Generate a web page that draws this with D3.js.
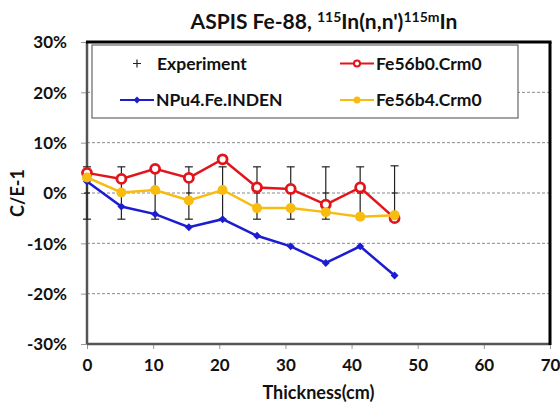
<!DOCTYPE html>
<html>
<head>
<meta charset="utf-8">
<script src="https://cdn.jsdelivr.net/npm/d3@7"></script>
<style>
  body { margin: 0; background: #fff; }
  svg text { font-family: Lato, "Open Sans", sans-serif; font-weight: bold; fill: #111; }
</style>
</head>
<body>
<div id="chart"></div>
<script>
// thickness positions (cm)
const thickness = [0, 5.2, 10.3, 15.4, 20.5, 25.7, 30.8, 36.1, 41.3, 46.5];

// C/E-1 in percent
const expValues = [0, 0, 0, 0, 0, 0, 0, 0, 0, 0];
const expErrors = [5.2, 5.2, 5.2, 5.2, 5.2, 5.2, 5.2, 5.2, 5.2, 5.4];
const npu4Values = [2.3, -2.7, -4.2, -6.8, -5.2, -8.5, -10.6, -13.9, -10.6, -16.4];
const fe56b0Values = [4.0, 2.8, 4.8, 3.0, 6.7, 1.1, 0.8, -2.3, 1.1, -5.0];
const fe56b4Values = [3.1, 0.1, 0.6, -1.5, 0.6, -3.0, -3.0, -3.8, -4.7, -4.4];

const xTicks = [0, 10, 20, 30, 40, 50, 60, 70];
const yTicks = [30, 20, 10, 0, -10, -20, -30];

const width = 560, height = 405;
const margin = { left: 87, right: 10, top: 42, bottom: 61 };

const svg = d3.select("#chart").append("svg")
  .attr("width", width)
  .attr("height", height);

const x = d3.scaleLinear().domain([0, 70]).range([margin.left, width - margin.right]);
const y = d3.scaleLinear().domain([-30, 30]).range([height - margin.bottom, margin.top]);

// dashed gridlines
svg.append("g")
  .selectAll("line")
  .data(yTicks.filter(d => d !== 30 && d !== -30))
  .enter()
  .append("line")
  .attr("x1", x(0)).attr("x2", x(70))
  .attr("y1", d => y(d)).attr("y2", d => y(d))
  .attr("stroke", "#8a8a8a")
  .attr("stroke-width", 1)
  .attr("stroke-dasharray", "3,2");

// axes
const yAxis = svg.append("g")
  .attr("transform", `translate(${x(0)},0)`)
  .call(d3.axisLeft(y).tickValues(yTicks).tickSize(6).tickFormat(d => d + "%"));
yAxis.select(".domain").remove();
yAxis.selectAll("line").attr("stroke", "#999");
yAxis.selectAll("text").attr("font-size", 17).attr("x", -20).attr("dy", "0.35em");

const xAxis = svg.append("g")
  .attr("transform", `translate(0,${y(-30)})`)
  .call(d3.axisBottom(x).tickValues(xTicks).tickSize(5));
xAxis.select(".domain").remove();
xAxis.selectAll("line").attr("stroke", "#999");
xAxis.selectAll("text").attr("font-size", 17).attr("y", 15).attr("dy", "0.71em");

// plot frame: gray axis lines on left/bottom, black on top/right
svg.append("line")
  .attr("x1", x(0)).attr("x2", x(0)).attr("y1", y(30)).attr("y2", y(-30))
  .attr("stroke", "#555").attr("stroke-width", 2.5);
svg.append("line")
  .attr("x1", x(0)).attr("x2", x(70)).attr("y1", y(-30)).attr("y2", y(-30))
  .attr("stroke", "#555").attr("stroke-width", 2.5);
svg.append("line")
  .attr("x1", x(0) - 1).attr("x2", x(70) + 1.5).attr("y1", y(30)).attr("y2", y(30))
  .attr("stroke", "#000").attr("stroke-width", 3);
svg.append("line")
  .attr("x1", x(70)).attr("x2", x(70)).attr("y1", y(30)).attr("y2", y(-30) + 1)
  .attr("stroke", "#000").attr("stroke-width", 3);

// experiment error bars with "+" markers
const expData = thickness.map((t, i) => ({ t, v: expValues[i], e: expErrors[i] }));
const expGroup = svg.append("g").attr("class", "experiment");
expGroup.selectAll("line.err")
  .data(expData)
  .enter()
  .append("line")
  .attr("class", "err")
  .attr("x1", d => x(d.t)).attr("x2", d => x(d.t))
  .attr("y1", d => y(d.v + d.e)).attr("y2", d => y(d.v - d.e))
  .attr("stroke", "#222").attr("stroke-width", 1.2);
["+", "-"].forEach(sign => {
  expGroup.selectAll("line.cap" + (sign === "+" ? "t" : "b"))
    .data(expData)
    .enter()
    .append("line")
    .attr("x1", d => x(d.t) - 4).attr("x2", d => x(d.t) + 4)
    .attr("y1", d => y(sign === "+" ? d.v + d.e : d.v - d.e))
    .attr("y2", d => y(sign === "+" ? d.v + d.e : d.v - d.e))
    .attr("stroke", "#222").attr("stroke-width", 1.2);
});
expGroup.selectAll("line.mark")
  .data(expData)
  .enter()
  .append("line")
  .attr("x1", d => x(d.t) - 3).attr("x2", d => x(d.t) + 3)
  .attr("y1", d => y(d.v)).attr("y2", d => y(d.v))
  .attr("stroke", "#222").attr("stroke-width", 1.2);

const line = d3.line().x(d => x(d.t)).y(d => y(d.v));

function drawSeries(values, color, marker) {
  const data = thickness.map((t, i) => ({ t, v: values[i] }));
  const g = svg.append("g");
  g.append("path")
    .datum(data)
    .attr("d", line)
    .attr("fill", "none")
    .attr("stroke", color)
    .attr("stroke-width", 2.5);
  if (marker === "diamond") {
    g.selectAll("path.pt")
      .data(data)
      .enter()
      .append("path")
      .attr("class", "pt")
      .attr("d", d3.symbol(d3.symbolDiamond2, 40))
      .attr("transform", d => `translate(${x(d.t)},${y(d.v)})`)
      .attr("fill", color);
  } else if (marker === "ring") {
    g.selectAll("circle")
      .data(data)
      .enter()
      .append("circle")
      .attr("cx", d => x(d.t)).attr("cy", d => y(d.v))
      .attr("r", 4.5)
      .attr("fill", "#fff")
      .attr("stroke", color)
      .attr("stroke-width", 2.8);
  } else {
    g.selectAll("circle")
      .data(data)
      .enter()
      .append("circle")
      .attr("cx", d => x(d.t)).attr("cy", d => y(d.v))
      .attr("r", 5)
      .attr("fill", color);
  }
}

drawSeries(npu4Values, "#1c1cd0", "diamond");
drawSeries(fe56b0Values, "#e3151c", "ring");
drawSeries(fe56b4Values, "#f8bb10", "dot");

// legend
const legend = svg.append("g").attr("class", "legend");
legend.append("rect")
  .attr("x", 92).attr("y", 45).attr("width", 426).attr("height", 73)
  .attr("fill", "#fff").attr("stroke", "#666").attr("stroke-width", 1.2);

const legendItems = [
  { name: "Experiment", kind: "plus", color: "#222", lx: 120, ly: 63.5 },
  { name: "NPu4.Fe.INDEN", kind: "diamond", color: "#1c1cd0", lx: 120, ly: 100 },
  { name: "Fe56b0.Crm0", kind: "ring", color: "#e3151c", lx: 340, ly: 63.5 },
  { name: "Fe56b4.Crm0", kind: "dot", color: "#f8bb10", lx: 340, ly: 100 }
];
legendItems.forEach(it => {
  const cx = it.lx + 17;
  if (it.kind === "plus") {
    legend.append("path")
      .attr("d", `M${cx - 4},${it.ly}H${cx + 4}M${cx},${it.ly - 4}V${it.ly + 4}`)
      .attr("stroke", it.color).attr("stroke-width", 1.2);
  } else {
    legend.append("line")
      .attr("x1", it.lx).attr("x2", it.lx + 34)
      .attr("y1", it.ly).attr("y2", it.ly)
      .attr("stroke", it.color).attr("stroke-width", 2);
    if (it.kind === "diamond") {
      legend.append("path")
        .attr("d", d3.symbol(d3.symbolDiamond2, 30))
        .attr("transform", `translate(${cx},${it.ly})`)
        .attr("fill", it.color);
    } else if (it.kind === "ring") {
      legend.append("circle").attr("cx", cx).attr("cy", it.ly).attr("r", 3)
        .attr("fill", "#fff").attr("stroke", it.color).attr("stroke-width", 2);
    } else {
      legend.append("circle").attr("cx", cx).attr("cy", it.ly).attr("r", 3.5)
        .attr("fill", it.color);
    }
  }
  legend.append("text")
    .attr("x", it.kind === "plus" ? it.lx + 37 : it.lx + 36)
    .attr("y", it.ly)
    .attr("dy", "0.35em")
    .attr("font-size", 17.5)
    .text(it.name);
});

// title
const title = svg.append("text")
  .attr("x", 324).attr("y", 29)
  .attr("text-anchor", "middle")
  .attr("font-size", 21);
title.append("tspan").text("ASPIS Fe-88, ");
title.append("tspan").attr("font-size", 14).attr("dy", -7).text("115");
title.append("tspan").attr("dy", 7).text("In(n,n')");
title.append("tspan").attr("font-size", 14).attr("dy", -7).text("115m");
title.append("tspan").attr("dy", 7).text("In");

// axis titles
svg.append("text")
  .attr("x", (x(0) + x(70)) / 2).attr("y", 399)
  .attr("text-anchor", "middle")
  .attr("font-size", 18)
  .text("Thickness(cm)");

svg.append("text")
  .attr("transform", `translate(24,${y(0)}) rotate(-90)`)
  .attr("text-anchor", "middle")
  .attr("font-size", 18)
  .text("C/E-1");
</script>
</body>
</html>
